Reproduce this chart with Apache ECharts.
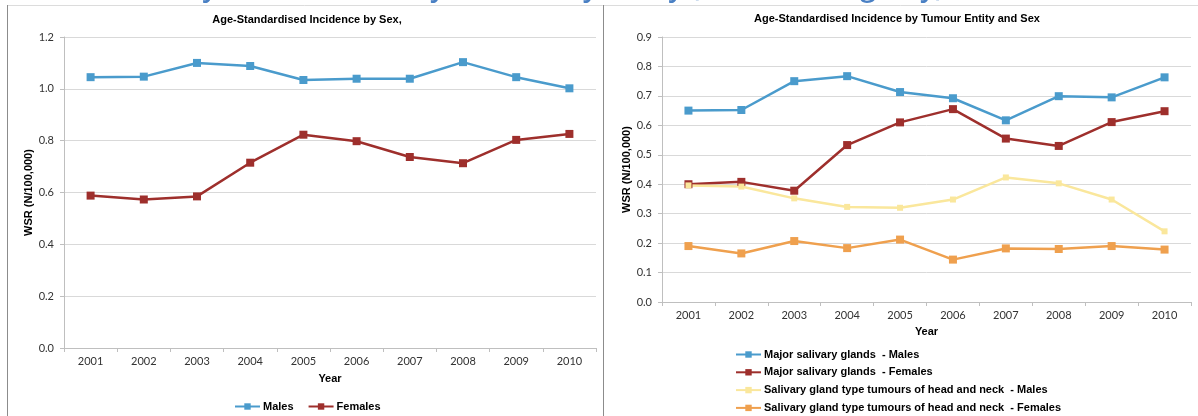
<!DOCTYPE html>
<html>
<head>
<meta charset="utf-8">
<script src="https://cdn.jsdelivr.net/npm/echarts@6/dist/echarts.min.js"></script>
<style>
  html, body { margin: 0; padding: 0; background: #ffffff; }
  #chart { width: 1198px; height: 416px; }
</style>
</head>
<body>
<div id="chart"></div>
<script>
// Years shown on both category axes
const years = ['2001', '2002', '2003', '2004', '2005', '2006', '2007', '2008', '2009', '2010'];

// Left panel: age-standardised incidence by sex (WSR per 100,000)
const sexMales   = [1.045, 1.047, 1.100, 1.088, 1.034, 1.039, 1.039, 1.103, 1.045, 1.002];
const sexFemales = [0.588, 0.573, 0.585, 0.715, 0.823, 0.798, 0.737, 0.713, 0.803, 0.826];

// Right panel: by tumour entity and sex
const majorMales     = [0.650, 0.652, 0.750, 0.767, 0.713, 0.692, 0.617, 0.699, 0.695, 0.763];
const majorFemales   = [0.400, 0.408, 0.378, 0.533, 0.610, 0.655, 0.555, 0.530, 0.611, 0.648];
const sgTypeMales    = [0.396, 0.392, 0.352, 0.323, 0.320, 0.348, 0.423, 0.403, 0.348, 0.240];
const sgTypeFemales  = [0.190, 0.165, 0.207, 0.183, 0.212, 0.144, 0.182, 0.180, 0.190, 0.178];

// Series names and axis text
const leftTitle  = 'Age-Standardised Incidence by Sex,';
const rightTitle = 'Age-Standardised Incidence by Tumour Entity and Sex';
const yName = 'WSR (N/100,000)';
const xName = 'Year';
const leftNames  = ['Males', 'Females'];
const rightNames = [
  'Major salivary glands  - Males',
  'Major salivary glands  - Females',
  'Salivary gland type tumours of head and neck  - Males',
  'Salivary gland type tumours of head and neck  - Females'
];
const heading = 'Salivary Gland Cancer by Sex and by Entity (Saarland Registry)';

const BLUE = '#4a9bcc', RED = '#9e2f2c', YELLOW = '#fae79c', ORANGE = '#efa04e';
const BOLD = 'Liberation Sans, Arial, sans-serif';
const TICK = 'Lato, Open Sans, sans-serif';

function xAxisFor(gridIndex, gap) {
  return {
    type: 'category', gridIndex, data: years, boundaryGap: true,
    name: xName, nameLocation: 'middle', nameGap: gap,
    nameTextStyle: { fontFamily: BOLD, fontWeight: 'bold', fontSize: 11, color: '#000' },
    axisLine: { lineStyle: { color: '#bfbfbf', width: 1 } },
    axisTick: { show: true, length: 4, lineStyle: { color: '#bfbfbf' } },
    axisLabel: { fontFamily: TICK, fontSize: 11, color: '#333', margin: 8 },
    splitLine: { show: false }
  };
}
function yAxisFor(gridIndex, max, interval, gap) {
  return {
    type: 'value', gridIndex, min: 0, max, interval,
    name: yName, nameLocation: 'middle', nameRotate: 90, nameGap: gap,
    nameTextStyle: { fontFamily: BOLD, fontWeight: 'bold', fontSize: 11, color: '#000' },
    axisLine: { show: true, lineStyle: { color: '#bfbfbf', width: 1 } },
    axisTick: { show: true, length: 4, lineStyle: { color: '#bfbfbf' } },
    axisLabel: { fontFamily: TICK, fontSize: 11, color: '#333', margin: 10,
                 formatter: v => v.toFixed(1) },
    splitLine: { show: true, lineStyle: { color: '#d9d9d9', width: 1 } }
  };
}
function lineSeries(name, data, color, xi, size, width) {
  return {
    name, type: 'line', data, xAxisIndex: xi, yAxisIndex: xi,
    symbol: 'rect', symbolSize: size, showSymbol: true,
    lineStyle: { color, width },
    itemStyle: { color, borderColor: color, borderWidth: 0 },
    emphasis: { disabled: true }, animation: false
  };
}

const chart = echarts.init(document.getElementById('chart'), null, { renderer: 'canvas' });
chart.setOption({
  animation: false,
  backgroundColor: '#ffffff',
  title: [
    { text: leftTitle, left: 307, top: 14, textAlign: 'center', padding: 0,
      textStyle: { fontFamily: BOLD, fontWeight: 'bold', fontSize: 11, color: '#000' } },
    { text: rightTitle, left: 897, top: 13, textAlign: 'center', padding: 0,
      textStyle: { fontFamily: BOLD, fontWeight: 'bold', fontSize: 11, color: '#000' } }
  ],
  grid: [
    { left: 64, right: 602, top: 37, bottom: 68, containLabel: false },
    { left: 662, right: 7, top: 37, bottom: 114, containLabel: false }
  ],
  xAxis: [xAxisFor(0, 25), xAxisFor(1, 24)],
  yAxis: [yAxisFor(0, 1.2, 0.2, 30), yAxisFor(1, 0.9, 0.1, 30)],
  legend: [
    { data: leftNames, orient: 'horizontal', left: 234, top: 401, padding: 0,
      itemWidth: 25, itemHeight: 8, itemGap: 14,
      textStyle: { fontFamily: BOLD, fontWeight: 'bold', fontSize: 11, color: '#000', padding: [0, 0, 0, -2] } },
    { data: rightNames, orient: 'vertical', left: 735, top: 349, padding: 0, height: 70,
      itemWidth: 25, itemHeight: 8, itemGap: 6.8,
      textStyle: { fontFamily: BOLD, fontWeight: 'bold', fontSize: 11, color: '#000', padding: [0, 0, 0, -2] } }
  ],
  series: [
    lineSeries(leftNames[0], sexMales, BLUE, 0, 8, 2.5),
    lineSeries(leftNames[1], sexFemales, RED, 0, 8, 2.5),
    lineSeries(rightNames[0], majorMales, BLUE, 1, 8, 2.5),
    lineSeries(rightNames[1], majorFemales, RED, 1, 8, 2.5),
    lineSeries(rightNames[2], sgTypeMales, YELLOW, 1, 6, 2.5),
    lineSeries(rightNames[3], sgTypeFemales, ORANGE, 1, 8, 2.5)
  ],
  graphic: [
    // Slide heading, running off the top edge: only its descenders fall inside
    { type: 'text', x: 112, y: 2, silent: true,
      style: { text: heading, fontFamily: 'Open Sans, sans-serif', fontSize: 28, fontWeight: 600,
               fill: '#4a80c4', verticalAlign: 'bottom', align: 'left' } },
    // Panel frames
    { type: 'line', silent: true, shape: { x1: 7, y1: 5.5, x2: 1198, y2: 5.5 },
      style: { stroke: '#dcdcdc', lineWidth: 1 } },
    { type: 'line', silent: true, shape: { x1: 7.5, y1: 5, x2: 7.5, y2: 416 },
      style: { stroke: '#8c8c8c', lineWidth: 1 } },
    { type: 'line', silent: true, shape: { x1: 603.5, y1: 5, x2: 603.5, y2: 416 },
      style: { stroke: '#8c8c8c', lineWidth: 1 } }
  ]
});
</script>
</body>
</html>
